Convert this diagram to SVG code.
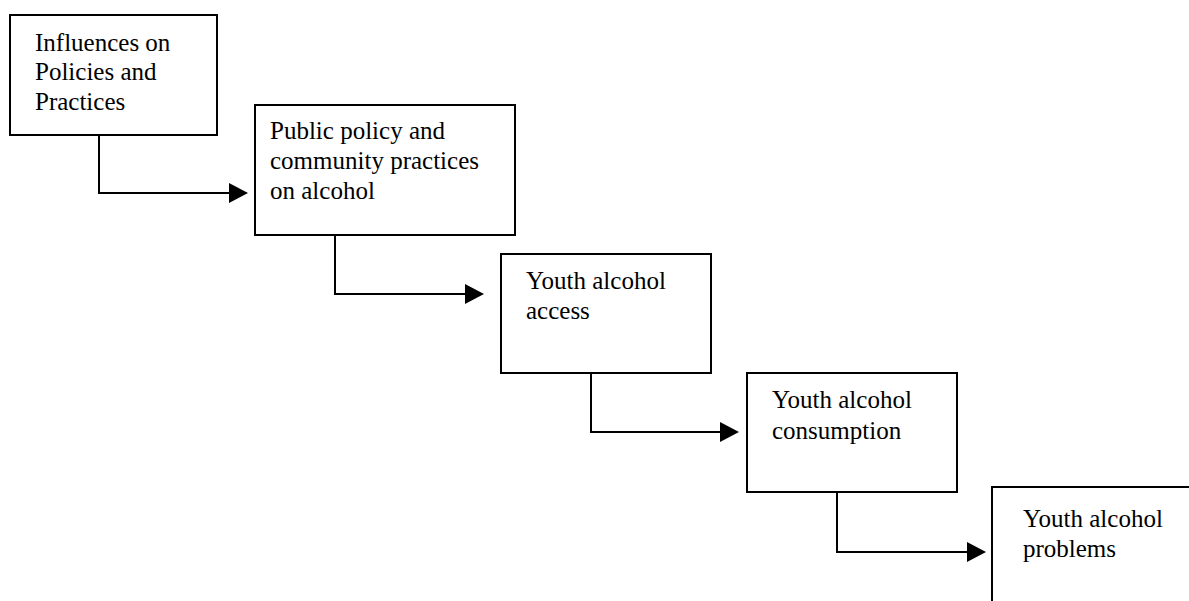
<svg xmlns="http://www.w3.org/2000/svg" width="1189" height="601" viewBox="0 0 1189 601">
<style>
.box{fill:#fff;stroke:#000;stroke-width:2}
.conn{fill:none;stroke:#000;stroke-width:2}
.head{fill:#000}
text{font-family:"Liberation Serif","Times New Roman",serif;font-size:25px;fill:#000}
</style>
<rect width="1189" height="601" fill="#fff"/>
<g id="connectors">
<path class="conn" d="M99,135 V193 H230"/>
<path class="head" d="M229,183 L248,193 L229,203 Z"/>
<path class="conn" d="M335,235 V294 H466"/>
<path class="head" d="M465,284 L484,294 L465,304 Z"/>
<path class="conn" d="M591,373 V432 H721"/>
<path class="head" d="M720,422 L739,432 L720,442 Z"/>
<path class="conn" d="M837,492 V552 H968"/>
<path class="head" d="M967,542 L986,552 L967,562 Z"/>
</g>
<g id="n1">
<rect class="box" x="10" y="15" width="207" height="120"/>
<text x="35" y="51">Influences on</text>
<text x="35" y="80">Policies and</text>
<text x="35" y="110">Practices</text>
</g>
<g id="n2">
<rect class="box" x="255" y="105" width="260" height="130"/>
<text x="270" y="139">Public policy and</text>
<text x="270" y="169">community practices</text>
<text x="270" y="199">on alcohol</text>
</g>
<g id="n3">
<rect class="box" x="501" y="254" width="210" height="119"/>
<text x="526" y="289">Youth alcohol</text>
<text x="526" y="319">access</text>
</g>
<g id="n4">
<rect class="box" x="747" y="373" width="210" height="119"/>
<text x="772" y="408">Youth alcohol</text>
<text x="772" y="439">consumption</text>
</g>
<g id="n5">
<rect class="box" x="992" y="487" width="220" height="130"/>
<text x="1023" y="527">Youth alcohol</text>
<text x="1023" y="557">problems</text>
</g>
</svg>
